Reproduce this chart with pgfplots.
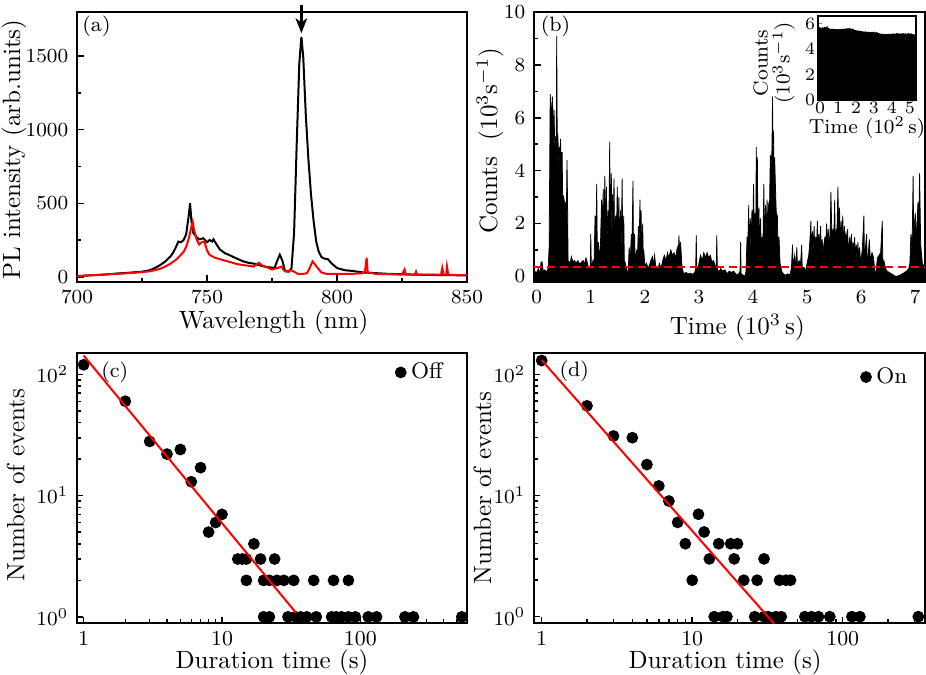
\documentclass[border=0pt]{standalone}
\usepackage{pgfplots}
\pgfplotsset{compat=1.18}
\usetikzlibrary{arrows.meta}

\pgfplotsset{
  myax/.style={
    scale only axis, anchor=north west,
    width=156pt, height=108pt,
    axis line style={line width=0.8pt},
    tick align=inside, tick pos=left,
    major tick length=2.6pt, minor tick length=1.5pt,
    tick style={line width=0.6pt, black},
    tick label style={font=\fontsize{8.5}{10}\selectfont},
    label style={font=\normalsize},
    clip mode=individual,
    /pgf/number format/set thousands separator={},
  },
}
\tikzset{plab/.style={font=\fontsize{8.3}{10}\selectfont, anchor=center}}

\begin{document}
\begin{tikzpicture}
\useasboundingbox (0pt,0pt) rectangle (370.4pt,-270pt);

% ---------------- (a) ----------------
\begin{axis}[myax, at={(30.8pt,-4.8pt)},
  xmin=700, xmax=850, ymin=-35, ymax=1800,
  xtick={700,750,800,850}, minor xtick={725,775,825},
  ytick={0,500,1000,1500}, minor ytick={250,750,1250},
  xlabel={Wavelength (nm)}, ylabel={PL intensity (arb.units)},
  xlabel style={at={(axis description cs:0.504,-0.148)}, anchor=center},
  ylabel style={at={(axis description cs:-0.162,0.49)}, anchor=center},
]
\addplot[black, line width=0.8pt] table {
700 5
705 10
710 15
715 22
720 28
725 35
728 45
730 60
732 80
734 105
736 140
737 165
738 200
739 240
740 235
741 250
742 290
743 420
743.5 500
744 380
744.7 300
746 270
747 255
748.6 262
750 235
751 250
752 240
752.5 255
753.5 225
755 185
757 160
759 145
760 136
762 120
764 105
766 95
768 90
770 80
772 70
774 65
776 60
777 110
778 150
779 110
780 40
781.5 35
782.5 60
783.5 300
784.5 900
785.5 1450
786.3 1630
787 1500
788 1100
789 800
790 560
791 380
792 240
793 170
794 135
795 125
796.5 120
798 90
800 60
803 45
806 40
810 30
815 25
820 20
825 18
830 15
840 12
850 10
};
\addplot[red, line width=0.8pt] table {
700 5
705 10
710 15
715 20
720 25
725 32
728 38
730 45
732 55
734 70
736 90
738 115
740 150
741 170
742 205
743 260
744 340
744.5 375
745 320
746 255
747 220
748 235
749 240
750 180
751 150
753 130
755 120
757 110
760 95
762 85
764 80
766 75
768 70
769 85
770 95
771 80
773 65
775 50
776 55
778 65
778.7 70
779.5 45
780.6 35
782 45
783 40
785 20
787 20
788.5 25
789.5 60
790.6 105
791.5 85
792.8 55
794 30
796 20
800 20
805 20
808 22
810 25
810.8 40
811.4 130
811.8 30
815 20
820 18
825 15
826 50
826.5 15
830 15
830.4 35
830.8 15
835 15
840 15
840.5 60
841 15
842 15
842.3 70
842.8 15
846 12
850 12
};
\draw[line width=1pt, -{Stealth[length=6pt, width=4.6pt, inset=1.6pt]}] (axis cs:786.3,1850) -- (axis cs:786.3,1655);
\node[plab] at (axis description cs:0.05,0.946) {(a)};
\end{axis}

% ---------------- (b) ----------------
\begin{axis}[myax, at={(213.6pt,-4.8pt)}, width=156.4pt,
  xmin=-0.05, xmax=7.18, ymin=-0.21, ymax=10,
  xtick={0,1,...,7}, ytick={0,2,...,10}, minor ytick={1,3,...,9},
  xlabel={Time $(10^3\,\mathrm{s})$}, ylabel={Counts\ \ $(10^3\mathrm{s}^{-1})$},
  xlabel style={at={(axis description cs:0.52,-0.167)}, anchor=center},
  ylabel style={at={(axis description cs:-0.1125,0.523)}, anchor=center},
]
\addplot[fill=black, draw=black, line width=0.3pt] table {
-0.05 -0.3
-0.05 0.2
0.00 0.15
0.03 0.3
0.06 0.1
0.08 0.55
0.10 0.55
0.12 0.2
0.15 0.25
0.18 0.15
0.21 0.3
0.23 1.1
0.25 6.9
0.27 6.0
0.29 6.8
0.31 5.2
0.32 6.3
0.34 4.4
0.35 5.3
0.36 4.6
0.37 9.1
0.38 5.0
0.39 5.4
0.41 4.2
0.42 4.9
0.43 4.3
0.44 5.2
0.46 3.8
0.47 4.7
0.48 3.1
0.50 3.0
0.52 2.7
0.54 2.8
0.55 2.6
0.56 4.4
0.57 2.9
0.58 0.6
0.62 0.5
0.64 0.75
0.67 0.55
0.70 0.6
0.73 0.5
0.76 0.6
0.80 0.45
0.83 0.55
0.86 0.6
0.88 0.45
0.91 0.7
0.94 0.5
0.97 0.2
0.99 0.4
1.00 1.6
1.01 0.3
1.04 0.6
1.06 0.5
1.08 2.3
1.09 0.8
1.11 3.5
1.12 1.0
1.14 1.3
1.16 0.6
1.18 1.3
1.20 2.9
1.21 1.5
1.23 3.3
1.24 1.2
1.26 3.8
1.27 2.0
1.29 3.4
1.30 1.4
1.32 2.5
1.33 1.0
1.35 5.1
1.36 1.8
1.38 3.9
1.39 1.2
1.40 3.1
1.41 1.5
1.43 3.7
1.44 1.2
1.46 2.3
1.47 0.8
1.49 3.4
1.50 1.5
1.52 3.0
1.53 1.0
1.55 2.5
1.56 0.8
1.58 3.7
1.59 1.2
1.61 2.3
1.62 0.6
1.64 0.5
1.67 0.2
1.69 0.1
1.71 1.1
1.73 0.6
1.75 1.6
1.76 0.8
1.78 3.6
1.79 1.0
1.81 1.6
1.82 0.6
1.85 1.0
1.86 0.5
1.88 1.9
1.89 0.8
1.91 2.9
1.92 1.2
1.93 2.5
1.94 1.0
1.96 2.0
1.97 0.8
1.98 1.0
2.00 0.4
2.03 0.5
2.06 0.3
2.08 0.4
2.11 0.6
2.14 0.75
2.16 0.4
2.18 0.8
2.20 0.4
2.24 0.3
2.27 0.5
2.30 0.3
2.33 0.6
2.36 0.8
2.39 0.6
2.42 0.9
2.44 0.7
2.48 1.0
2.51 0.8
2.54 0.9
2.57 0.7
2.60 1.1
2.62 0.9
2.63 1.55
2.64 1.0
2.66 1.3
2.68 0.6
2.69 0.3
2.72 0.1
2.76 0.15
2.80 0.1
2.84 0.12
2.88 0.08
2.92 0.15
2.94 0.3
2.95 1.55
2.96 0.4
2.98 0.2
3.00 0.5
3.03 0.8
3.06 0.6
3.09 0.9
3.12 0.7
3.15 0.9
3.18 0.7
3.21 0.8
3.24 0.55
3.27 0.6
3.30 0.4
3.32 0.3
3.33 1.55
3.34 0.3
3.37 0.15
3.40 0.3
3.44 0.2
3.48 0.25
3.52 0.1
3.56 0.2
3.60 0.15
3.64 0.2
3.68 0.1
3.72 0.05
3.76 0.2
3.77 1.3
3.78 0.1
3.82 0.05
3.85 0.0
3.87 0.2
3.89 1.5
3.90 0.8
3.92 2.7
3.93 1.0
3.95 2.2
3.96 0.9
3.98 2.5
3.99 1.2
4.01 3.5
4.02 1.8
4.04 2.4
4.05 1.4
4.06 4.9
4.07 2.5
4.08 4.5
4.09 1.8
4.11 2.6
4.12 1.0
4.14 2.2
4.15 1.1
4.17 1.5
4.18 0.7
4.20 3.5
4.21 1.2
4.23 2.7
4.24 1.5
4.26 2.9
4.27 1.6
4.29 2.8
4.30 2.0
4.32 4.6
4.33 4.0
4.35 4.8
4.36 6.8
4.37 5.0
4.38 5.5
4.39 3.6
4.40 4.5
4.42 3.0
4.43 2.4
4.45 2.3
4.46 1.2
4.48 1.5
4.50 0.5
4.53 0.2
4.56 0.1
4.60 0.05
4.64 0.1
4.68 0.05
4.71 0.3
4.73 1.2
4.74 0.4
4.77 0.8
4.79 0.3
4.81 1.1
4.82 0.4
4.85 0.6
4.88 0.5
4.90 1.2
4.91 0.3
4.94 0.35
4.97 0.2
5.00 0.5
5.03 0.8
5.05 1.3
5.07 2.1
5.08 1.0
5.10 1.7
5.11 0.9
5.13 1.9
5.14 1.0
5.16 1.5
5.17 0.8
5.19 2.1
5.20 1.2
5.22 1.6
5.23 1.0
5.25 1.9
5.26 1.1
5.28 1.4
5.29 0.9
5.31 1.2
5.33 1.5
5.34 0.9
5.36 2.0
5.37 1.2
5.39 1.8
5.41 1.0
5.43 2.0
5.44 3.2
5.46 1.4
5.48 1.8
5.49 1.1
5.51 2.9
5.52 1.3
5.54 1.8
5.55 1.5
5.57 3.4
5.58 2.0
5.60 2.6
5.61 1.3
5.63 2.1
5.64 1.4
5.66 2.3
5.67 1.2
5.69 1.9
5.70 1.1
5.72 1.7
5.73 1.0
5.75 1.8
5.76 0.9
5.79 1.5
5.80 0.8
5.82 1.6
5.83 0.8
5.85 1.3
5.86 0.7
5.88 1.5
5.89 0.7
5.91 1.2
5.92 0.6
5.94 1.3
5.95 0.6
5.97 1.1
5.99 0.5
6.02 1.0
6.05 2.3
6.06 0.7
6.08 1.1
6.10 1.6
6.11 0.6
6.13 0.8
6.15 1.4
6.17 0.6
6.20 0.9
6.23 0.7
6.25 0.2
6.27 0.1
6.30 0.7
6.33 0.8
6.36 0.9
6.39 2.1
6.40 0.5
6.42 0.6
6.45 0.3
6.48 0.2
6.52 0.15
6.56 0.1
6.60 0.05
6.64 0.0
6.68 0.02
6.72 0.05
6.76 0.1
6.80 0.15
6.84 0.2
6.88 0.3
6.90 0.5
6.92 1.6
6.94 0.9
6.96 3.8
6.97 1.6
7.00 2.4
7.02 1.4
7.05 2.8
7.06 1.5
7.08 3.9
7.10 1.2
7.13 0.5
7.18 0.3
7.18 -0.3
} -- cycle;
\addplot[red, line width=0.9pt, dash pattern=on 3.2pt off 2pt] coordinates {(-0.05,0.35) (7.18,0.35)};
\node[plab] at (axis description cs:0.055,0.946) {(b)};
\end{axis}

% ---------------- inset ----------------
\begin{axis}[scale only axis, anchor=north west, at={(327.2pt,-6.4pt)},
  width=39.2pt, height=33.6pt,
  xmin=-0.12, xmax=5.35, ymin=0, ymax=6.6,
  xtick={0,1,...,5}, ytick={0,2,4,6},
  tick pos=left, tick align=inside,
  axis line style={line width=0.6pt},
  major tick length=1.5pt,
  tick label style={font=\fontsize{7.2}{8}\selectfont},
  xticklabel style={inner sep=0.6pt},
  yticklabel style={inner sep=1pt},
  axis background/.style={fill=white},
  xlabel={Time $(10^2\,\mathrm{s})$}, ylabel={Counts\\$(10^3\mathrm{s}^{-1})$},
  label style={font=\fontsize{8.1}{8.8}\selectfont},
  xlabel style={at={(axis description cs:0.5,-0.33)}, anchor=center},
  ylabel style={at={(axis description cs:-0.45,0.44)}, anchor=center, align=center},
]
\addplot[fill=black, draw=black, line width=0.3pt] table {
-0.12 0
-0.12 5.62
-0.05 5.70
0.00 5.66
0.06 5.60
0.12 5.68
0.18 5.62
0.25 5.72
0.32 5.64
0.38 5.76
0.45 5.62
0.52 5.58
0.60 5.54
0.68 5.58
0.76 5.52
0.84 5.56
0.92 5.50
1.00 5.55
1.08 5.52
1.16 5.56
1.24 5.54
1.32 5.58
1.40 5.55
1.48 5.60
1.56 5.58
1.64 5.62
1.72 5.56
1.80 5.58
1.88 5.50
1.96 5.46
2.04 5.44
2.12 5.40
2.20 5.42
2.28 5.36
2.36 5.38
2.44 5.32
2.52 5.36
2.60 5.30
2.68 5.34
2.76 5.28
2.84 5.32
2.92 5.30
3.00 5.34
3.08 5.26
3.16 5.30
3.24 5.22
3.32 5.20
3.40 5.16
3.48 5.18
3.56 5.12
3.64 5.16
3.72 5.14
3.80 5.18
3.88 5.14
3.96 5.18
4.04 5.16
4.12 5.20
4.20 5.16
4.28 5.22
4.36 5.18
4.44 5.20
4.52 5.16
4.60 5.22
4.68 5.18
4.76 5.20
4.84 5.16
4.92 5.22
5.00 5.18
5.08 5.20
5.16 5.14
5.24 5.12
5.30 5.10
5.35 5.08
5.35 0
} -- cycle;
\end{axis}

% ---------------- (c) ----------------
\begin{axis}[myax, at={(30.8pt,-141.2pt)},
  xmode=log, ymode=log,
  xmin=0.895, xmax=590, ymin=0.89, ymax=150,
  xtick={1,10,100}, xticklabels={1,10,100},
  minor xtick={2,3,4,5,6,7,8,9,20,30,40,50,60,70,80,90,200,300,400,500},
  ytick={1,10,100},
  minor ytick={2,3,4,5,6,7,8,9,20,30,40,50,60,70,80,90},
  xlabel={Duration time (s)}, ylabel={Number of events},
  xlabel style={at={(axis description cs:0.50,-0.147)}, anchor=center},
  ylabel style={at={(axis description cs:-0.157,0.51)}, anchor=center},
  legend style={draw=none, fill=none, at={(axis description cs:0.958,0.928)}, anchor=east,
    font=\fontsize{9}{10}\selectfont, inner sep=1pt},
  legend image code/.code={\draw[black, fill=black] plot[mark=*, mark size=2.15pt] coordinates {(0pt,0pt)};},
]
\addplot[only marks, mark=*, mark size=2.15pt, black] table {
1 120
2 60
3 28
4 22
5 24
6 13
7 17
8 5
9 6
10 7
13 3
14 3
15 3
17 4
19 3
24 3
15 2
20 2
22 2
25 2
28 2
33 2
46 2
64 2
82 2
20 1
22 1
30 1
34 1
37 1
41 1
48 1
62 1
67 1
73 1
82 1
92 1
114 1
131 1
210 1
242 1
541 1
};
\addlegendentry{Off}
\addplot[red, line width=0.8pt] coordinates {(1,143) (34.3,1.08)};
\node[plab] at (axis description cs:0.097,0.93) {(c)};
\end{axis}

% ---------------- (d) ----------------
\begin{axis}[myax, at={(213.6pt,-141.2pt)}, width=156.4pt,
  xmode=log, ymode=log,
  xmin=0.889, xmax=352, ymin=0.887, ymax=150,
  xtick={1,10,100}, xticklabels={1,10,100},
  minor xtick={2,3,4,5,6,7,8,9,20,30,40,50,60,70,80,90,200,300},
  ytick={1,10,100},
  minor ytick={2,3,4,5,6,7,8,9,20,30,40,50,60,70,80,90},
  xlabel={Duration time (s)}, ylabel={Number of events},
  xlabel style={at={(axis description cs:0.489,-0.147)}, anchor=center},
  ylabel style={at={(axis description cs:-0.132,0.50)}, anchor=center},
  legend style={draw=none, fill=none, at={(axis description cs:0.975,0.911)}, anchor=east,
    font=\fontsize{9}{10}\selectfont, inner sep=1pt},
  legend image code/.code={\draw[black, fill=black] plot[mark=*, mark size=2.15pt] coordinates {(0pt,0pt)};},
]
\addplot[only marks, mark=*, mark size=2.15pt, black] table {
1 130
2 55
3 31
4 30
5 18
6 12
7 9
8 6
9 4
10 2
11 7
12 5
13 3
14 1
15 4
16 1
17 1
18 4
19 3
20 4
22 2
26 1
27 2
30 3
30 1
32 1
36 1
38 2
39 1
42 2
45 2
56 1
62 1
69 1
82 1
115 1
130 1
318 1
};
\addlegendentry{On}
\addplot[red, line width=0.8pt] coordinates {(1,131) (35,0.875)};
\node[plab] at (axis description cs:0.103,0.933) {(d)};
\end{axis}
\end{tikzpicture}
\end{document}
